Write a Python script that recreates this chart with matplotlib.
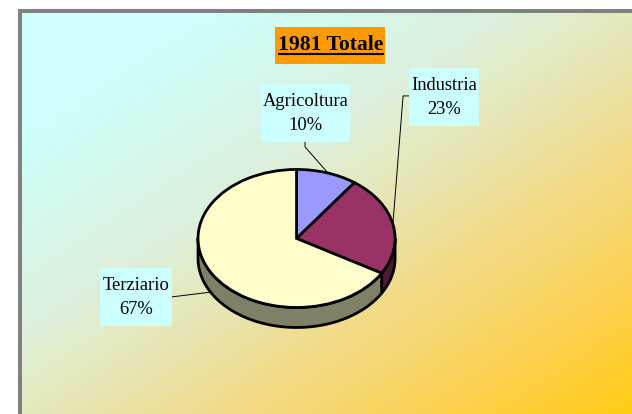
import numpy as np
import matplotlib
matplotlib.use('Agg')
import matplotlib.pyplot as plt
from matplotlib.colors import LinearSegmentedColormap
from matplotlib.patches import Rectangle

W, H = 632, 414
labels = ['Agricoltura', 'Industria', 'Terziario']
values = [10.0, 23.4, 66.6]
top_colors = ['#9999FF', '#993366', '#FFFFCC']
side_colors = ['#4D4D80', '#4D1A33', '#808066']
title = '1981 Totale'

plt.rcParams['font.family'] = ['Liberation Serif', 'DejaVu Serif']
fig = plt.figure(figsize=((W+0.1)/100, (H+0.1)/100), dpi=100, facecolor='white')

# overlay in pixel coordinates
bg = fig.add_axes([0, 0, 1, 1])
bg.set_xlim(0, W); bg.set_ylim(H, 0); bg.axis('off')
bg.add_patch(Rectangle((18, 9), W-18, H-9, fc='#808080', ec='none'))
yy, xx = np.mgrid[0:1:200j, 0:1:300j]
t = (xx + yy) / 2
cmap = LinearSegmentedColormap.from_list('g', [(0, '#CCFFFF'), (0.15, '#CCFFFB'), (0.4, '#DDF0DC'), (0.46, '#E2ECC8'),
                                               (0.55, '#E8E4AE'), (0.65, '#F1DC8C'), (0.72, '#F5D878'),
                                               (0.85, '#FDD04E'), (1, '#FFCC14')])
bg.imshow(t, extent=(22, W, H, 14), cmap=cmap, vmin=0, vmax=1, aspect='auto', interpolation='bilinear', zorder=1)
bg.set_xlim(0, W); bg.set_ylim(H, 0)

# leader lines
for xs, ys in [((305, 305, 327), (142, 147, 172)),
               ((409, 403, 393), (96, 96, 222)),
               ((171, 212), (297, 292))]:
    bg.plot(xs, ys, color='black', lw=0.7, zorder=2)

# pie
cx, cy, rx, ry, depth = 296.5, 238.5, 98.5, 69, 20
ax = fig.add_axes([(cx-rx)/W, 1-(cy+ry+depth)/H, 2*rx/W, (2*ry+depth)/H])
ax.patch.set_alpha(0)
d = depth/ry
frac = np.cumsum([0] + values) / sum(values)
for i in range(len(values)):
    a0, a1 = frac[i]*2*np.pi, frac[i+1]*2*np.pi
    lo, hi = max(a0, np.pi/2), min(a1, 3*np.pi/2)
    if hi > lo:
        th = np.linspace(lo, hi, 80)
        x, y = np.sin(th), np.cos(th)
        ax.fill(np.r_[x, x[::-1]], np.r_[y, y[::-1]-d], fc=side_colors[i], ec='black', lw=2, joinstyle='round', zorder=1)
ax.pie(values, colors=top_colors, startangle=90, counterclock=False, radius=1,
       wedgeprops=dict(edgecolor='black', linewidth=2, zorder=2))
ax.set_aspect('auto')
ax.set_xlim(-1, 1); ax.set_ylim(-1-d, 1)
for a in ax.patches:
    a.set_clip_on(False)
ax.set_frame_on(False)

# label boxes
boxes = [(261, 84, 89, 58), (409, 68, 70, 58), (100, 268, 72, 58)]
for name, v, (x, y, w, h) in zip(labels, values, boxes):
    bg.add_patch(Rectangle((x, y), w, h, fc='#CCFFFF', ec='none', zorder=3))
    bg.text(x+w/2, y+h/2+0.5, f'{name}\n{v:.0f}%', ha='center', va='center', fontsize=13.3, color='black', zorder=4, linespacing=1.5)
bg.add_patch(Rectangle((275, 27), 110, 37, fc='#FF9900', ec='none', zorder=3))
bg.text(331, 45, title, ha='center', va='center', fontsize=15.6, fontweight='bold', color='black', zorder=4)
bg.plot([278, 384], [54.5, 54.5], color='black', lw=1.5, solid_capstyle='butt', zorder=4)
bg.set_zorder(0); ax.set_zorder(1)
fig.savefig('out.png', dpi=100)
